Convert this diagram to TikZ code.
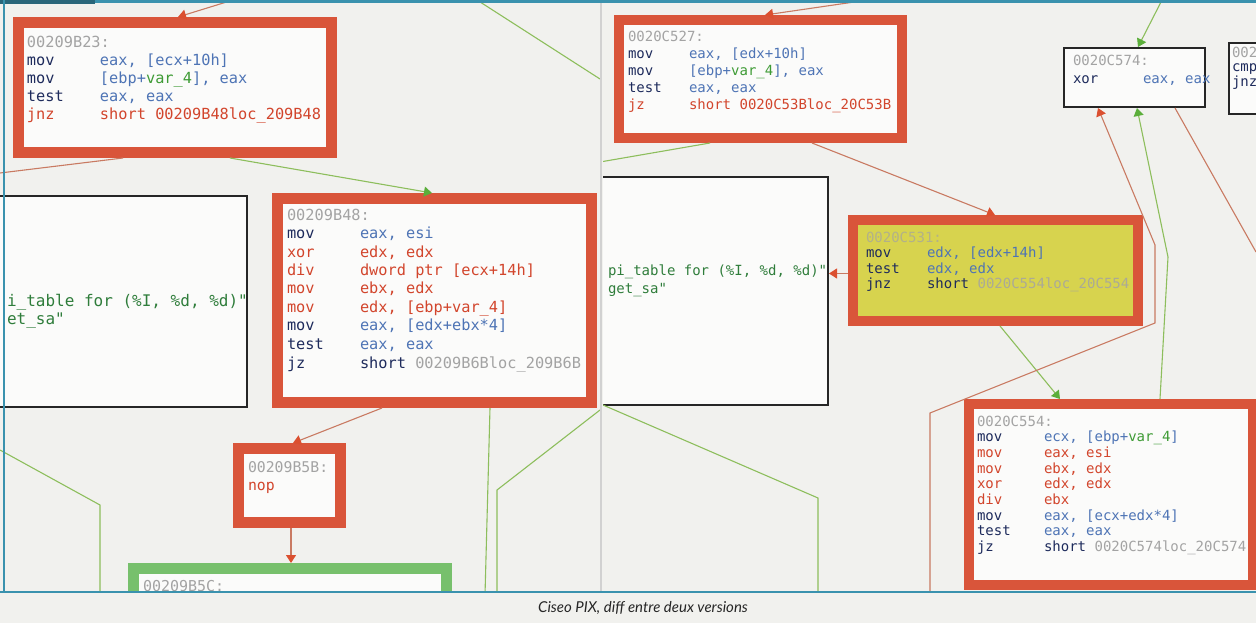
\documentclass[tikz,border=0pt]{standalone}
\usepackage{fontspec}
\setmonofont{DejaVu Sans Mono}
\newfontfamily\capfont{Lato}
\usetikzlibrary{arrows.meta,calc}
\definecolor{paper}{HTML}{F1F1EE}
\definecolor{inner}{HTML}{FBFBFA}
\definecolor{boxred}{HTML}{D9553A}
\definecolor{boxgreen}{HTML}{77C06C}
\definecolor{yell}{HTML}{D7D34E}
\definecolor{edgered}{HTML}{C97A62}
\definecolor{edgegreen}{HTML}{8DBE5C}
\definecolor{tipred}{HTML}{DB5030}
\definecolor{tipgreen}{HTML}{5BAE3A}
\definecolor{mnem}{HTML}{1E2B5C}
\definecolor{op}{HTML}{4E74B5}
\definecolor{dred}{HTML}{D2452C}
\definecolor{addr}{HTML}{A3A3A3}
\definecolor{varc}{HTML}{3E9B35}
\definecolor{strc}{HTML}{2F7D3B}
\definecolor{tealc}{HTML}{3A92AE}
\newlength\mnw
\newcommand\Ln[2]{\makebox[\mnw][l]{#1}#2}
\newcommand\Mn[1]{\textcolor{mnem}{#1}}
\newcommand\Op[1]{\textcolor{op}{#1}}
\newcommand\Dr[1]{\textcolor{dred}{#1}}
\newcommand\Ad[1]{\textcolor{addr}{#1}}
\newcommand\Va{\textcolor{varc}{var\_4}}
\tikzset{
  redbox/.style={draw=boxred, line width=11pt, fill=inner, inner sep=0pt},
  redboxr/.style={draw=boxred, line width=10pt, fill=inner, inner sep=0pt},
  greenbox/.style={draw=boxgreen, line width=11pt, fill=inner, inner sep=0pt},
  blackbox/.style={draw=black!85, line width=2pt, fill=inner, inner sep=0pt},
  code/.style={anchor=base west, inner sep=0pt, outer sep=0pt},
  redline/.style={draw=edgered, line width=1.1pt},
  greenline/.style={draw=edgegreen, line width=1.1pt},
  redtip/.style={-{Triangle[width=10pt,length=8pt,fill=tipred,color=tipred]}},
  greentip/.style={-{Triangle[width=10pt,length=8pt,fill=tipgreen,color=tipgreen]}},
}
\begin{document}
\begin{tikzpicture}[x=1pt,y=-1pt]
\useasboundingbox (0,0) rectangle (1256,623);
\fill[paper] (0,0) rectangle (1256,623);

% ---------------- left screenshot ----------------
\begin{scope}
\clip (0,0) rectangle (600,592);
\node[redbox, minimum width=313pt, minimum height=130pt] (b823) at (175,87.5) {};
\node[blackbox, minimum width=266pt, minimum height=211pt] (lbox) at (114,301.5) {};
\node[redbox, minimum width=314pt, minimum height=204pt] (b848) at (434.5,300.5) {};
\node[redbox, minimum width=102pt, minimum height=74pt] (b85b) at (289.5,485.5) {};
\node[greenbox, minimum width=313pt, minimum height=46pt] (b85c) at (290,591.5) {};

\coordinate (tA) at (233,0);
\coordinate (lB) at (0,173);
\coordinate (gT1) at (477,0);
\coordinate (gT2) at (600,79);
\coordinate (g1) at (485,595);
\coordinate (g2a) at (600,410);
\coordinate (g2b) at (497,490);
\coordinate (g2c) at (497,595);
\coordinate (g3a) at (0,450);
\coordinate (g3b) at (100,505);
\coordinate (g3c) at (100,595);

\draw[redline, redtip] (tA) -- ([xshift=165pt]b823.north west);
\draw[redline] ([xshift=110pt]b823.south west) -- (lB);
\draw[greenline, greentip] ([xshift=217pt]b823.south west) -- ([xshift=160pt]b848.north west);
\draw[greenline] (gT1) -- (gT2);
\draw[redline, redtip] ([xshift=110pt]b848.south west) -- ([xshift=60pt]b85b.north west);
\draw[redline, redtip] ([xshift=1.5pt]b85b.south) -- ([xshift=1.5pt]b85b.south |- b85c.north);
\draw[greenline] ([xshift=218pt]b848.south west) -- (g1);
\draw[greenline] (g2a) -- (g2b) -- (g2c);
\draw[greenline] (g3a) -- (g3b) -- (g3c);

\node[code] (b823t) at (27,48) {\fontsize{15.3}{18}\selectfont\ttfamily\setlength\mnw{73pt}%
\begin{tabular}[t]{@{}l@{}}
\Ad{00209B23:}\\
\Ln{\Mn{mov}}{\Op{eax, [ecx+10h]}}\\
\Ln{\Mn{mov}}{\Op{[ebp+}\Va\Op{], eax}}\\
\Ln{\Mn{test}}{\Op{eax, eax}}\\
\Ln{\Dr{jnz}}{\Dr{short 00209B48loc\_209B48}}
\end{tabular}};

\node[code] (b848t) at (287,220) {\fontsize{15.3}{18.5}\selectfont\ttfamily\setlength\mnw{73pt}%
\begin{tabular}[t]{@{}l@{}}
\Ad{00209B48:}\\
\Ln{\Mn{mov}}{\Op{eax, esi}}\\
\Ln{\Dr{xor}}{\Dr{edx, edx}}\\
\Ln{\Dr{div}}{\Dr{dword ptr [ecx+14h]}}\\
\Ln{\Dr{mov}}{\Dr{ebx, edx}}\\
\Ln{\Dr{mov}}{\Dr{edx, [ebp+var\_4]}}\\
\Ln{\Mn{mov}}{\Op{eax, [edx+ebx*4]}}\\
\Ln{\Mn{test}}{\Op{eax, eax}}\\
\Ln{\Mn{jz}}{\Mn{short} \Ad{00209B6Bloc\_209B6B}}
\end{tabular}};

\node[code] (lstr) at (7,306) {\fontsize{16}{18}\selectfont\ttfamily\color{strc}%
\begin{tabular}[t]{@{}l@{}}
i\_table for (\%I, \%d, \%d)"\\
et\_sa"
\end{tabular}};

\node[code] (b85bt) at (248,472) {\fontsize{14.8}{18}\selectfont\ttfamily%
\begin{tabular}[t]{@{}l@{}}
\Ad{00209B5B:}\\
\Dr{nop}
\end{tabular}};

\node[code] (b85ct) at (143,591) {\fontsize{15}{18}\selectfont\ttfamily\Ad{00209B5C:}};
\end{scope}

% ---------------- right screenshot ----------------
\begin{scope}
\clip (603,0) rectangle (1256,592);
\node[redboxr, minimum width=283pt, minimum height=118pt] (c527) at (760.5,79) {};
\node[blackbox, minimum width=248pt, minimum height=228pt] (rbox) at (704,291) {};
\node[redboxr, fill=yell, minimum width=285pt, minimum height=101pt] (c531) at (995.5,270.5) {};
\node[redboxr, minimum width=284pt, minimum height=181pt] (c554) at (1111,494.5) {};
\node[blackbox, minimum width=141pt, minimum height=59pt] (c574) at (1134.5,77.5) {};
\node[blackbox, minimum width=70pt, minimum height=71pt] (pbox) at (1264,78.5) {};

\coordinate (rA) at (868,0);
\coordinate (rG) at (600,162);
\coordinate (gc1) at (1168,257);
\coordinate (rc1) at (930,595);
\coordinate (rc2) at (930,413);
\coordinate (rc3) at (1155,323);
\coordinate (rc4) at (1155,245);
\coordinate (rX) at (1256,252);
\coordinate (gTop) at (1162,0);
\coordinate (gl1) at (603,405);
\coordinate (gl2) at (818,498);
\coordinate (gl3) at (818,595);

\draw[redline, redtip] (rA) -- ([xshift=151pt]c527.north west);
\draw[greenline] ([xshift=96pt]c527.south west) -- (rG);
\draw[redline, redtip] ([xshift=198pt]c527.south west) -- ([xshift=147pt]c531.north west);
\draw[redline, redtip] ([yshift=-3pt]c531.west) -- ([yshift=-3pt]rbox.east |- c531.west);
\draw[greenline, greentip] ([xshift=152pt]c531.south west) -- ([xshift=96pt]c554.north west);
\draw[greenline, greentip] ([xshift=196pt]c554.north west) -- (gc1) -- ([xshift=74pt]c574.south west);
\draw[redline, redtip] (rc1) -- (rc2) -- (rc3) -- (rc4) -- ([xshift=35pt]c574.south west);
\draw[redline] ([xshift=112pt]c574.south west) -- (rX);
\draw[greenline, greentip] (gTop) -- ([xshift=75pt]c574.north west);
\draw[greenline] (gl1) -- (gl2) -- (gl3);

\node[code] (c527t) at (628,42) {\fontsize{14}{16.8}\selectfont\ttfamily\setlength\mnw{61pt}%
\begin{tabular}[t]{@{}l@{}}
\Ad{0020C527:}\\
\Ln{\Mn{mov}}{\Op{eax, [edx+10h]}}\\
\Ln{\Mn{mov}}{\Op{[ebp+}\Va\Op{], eax}}\\
\Ln{\Mn{test}}{\Op{eax, eax}}\\
\Ln{\Dr{jz}}{\Dr{short 0020C53Bloc\_20C53B}}
\end{tabular}};

\node[code] (rstr) at (608,275) {\fontsize{14}{18}\selectfont\ttfamily\color{strc}%
\begin{tabular}[t]{@{}l@{}}
pi\_table for (\%I, \%d, \%d)"\\
get\_sa"
\end{tabular}};

\node[code] (c531t) at (866,242) {\fontsize{14}{15.5}\selectfont\ttfamily\setlength\mnw{61pt}%
\begin{tabular}[t]{@{}l@{}}
\textcolor{addr!70!yell}{0020C531:}\\
\Ln{\Mn{mov}}{\Op{edx, [edx+14h]}}\\
\Ln{\Mn{test}}{\Op{edx, edx}}\\
\Ln{\Mn{jnz}}{\Mn{short} \textcolor{addr!85!yell}{0020C554loc\_20C554}}
\end{tabular}};

\node[code] (c554t) at (977,426) {\fontsize{14}{15.7}\selectfont\ttfamily\setlength\mnw{67pt}%
\begin{tabular}[t]{@{}l@{}}
\Ad{0020C554:}\\
\Ln{\Mn{mov}}{\Op{ecx, [ebp+}\Va\Op{]}}\\
\Ln{\Dr{mov}}{\Dr{eax, esi}}\\
\Ln{\Dr{mov}}{\Dr{ebx, edx}}\\
\Ln{\Dr{xor}}{\Dr{edx, edx}}\\
\Ln{\Dr{div}}{\Dr{ebx}}\\
\Ln{\Mn{mov}}{\Op{eax, [ecx+edx*4]}}\\
\Ln{\Mn{test}}{\Op{eax, eax}}\\
\Ln{\Mn{jz}}{\Mn{short} \Ad{0020C574loc\_20C574}}
\end{tabular}};

\node[code] (c574t) at (1073,66) {\fontsize{14}{18}\selectfont\ttfamily\setlength\mnw{70pt}%
\begin{tabular}[t]{@{}l@{}}
\Ad{0020C574:}\\
\Ln{\Mn{xor}}{\Op{eax, eax}}
\end{tabular}};

\node[code] (pboxt) at (1232,58) {\fontsize{14}{14}\selectfont\ttfamily%
\begin{tabular}[t]{@{}l@{}}
\Ad{002}\\
\Mn{cmp}\\
\Mn{jnz}
\end{tabular}};
\end{scope}

% ---------------- frame and caption ----------------
\draw[black!18, line width=2pt] (601,0) -- (601,592);
\fill[tealc] (0,0) rectangle (1256,3);
\fill[tealc!70!black] (0,0) rectangle (95,4);
\draw[tealc, line width=1.5pt] (4,0) -- (4,592);
\draw[tealc, line width=1.5pt] (0,592) -- (1256,592);
\node[font=\capfont\itshape\fontsize{15}{17}\selectfont, text=black!85] (cap) at (643,608) {Ciseo PIX, diff entre deux versions};
\end{tikzpicture}
\end{document}
